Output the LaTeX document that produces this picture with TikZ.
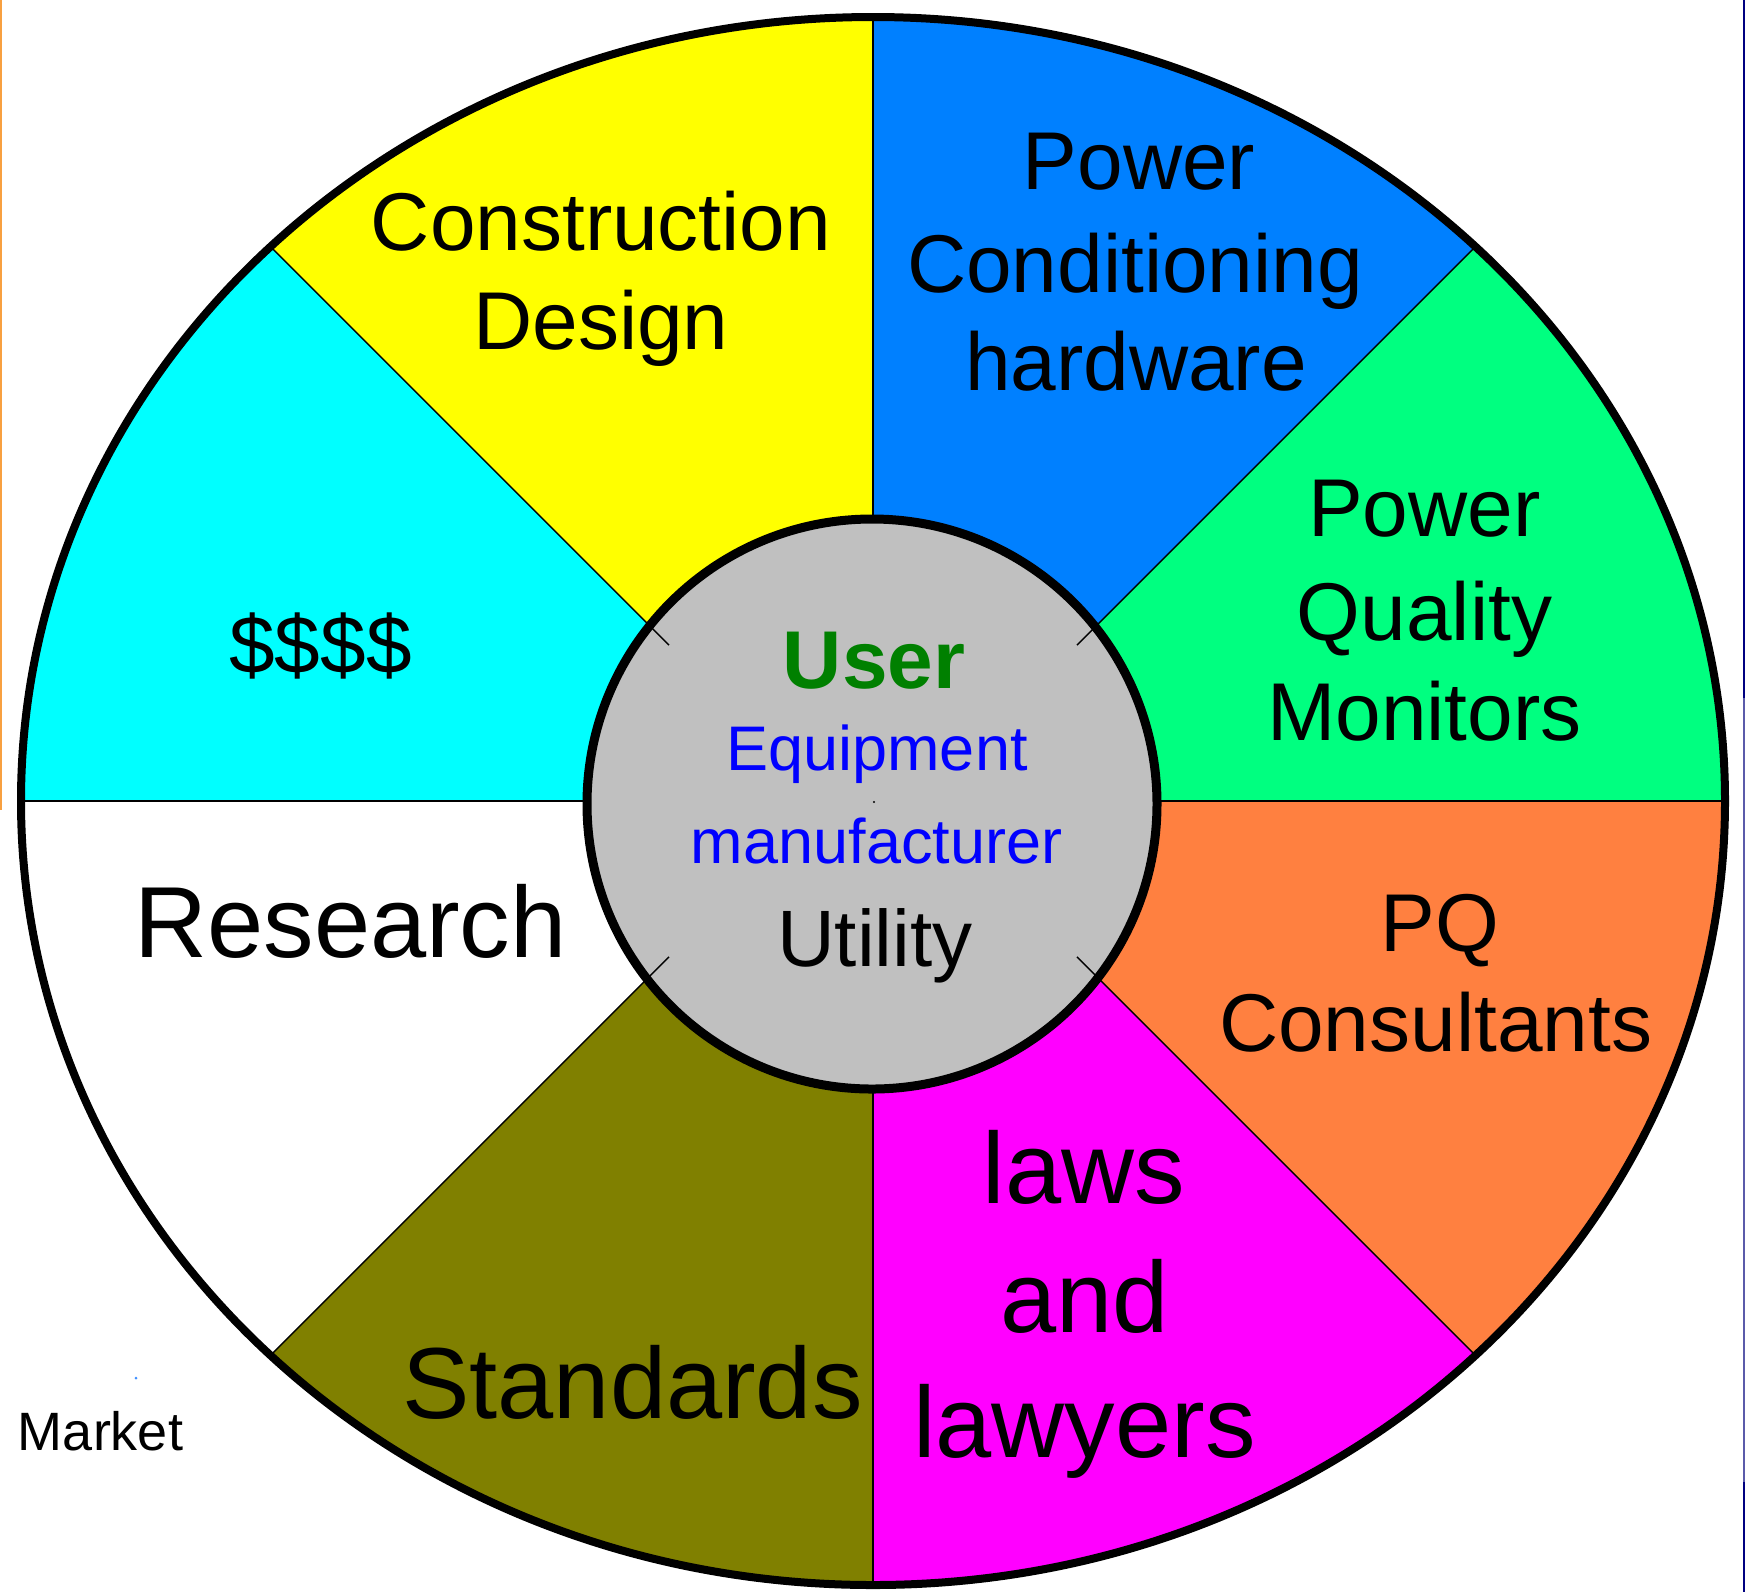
\documentclass[tikz,border=0pt]{standalone}
\usepackage{fontspec}
\setmainfont{Liberation Sans}
\definecolor{cyellow}{HTML}{FFFF00}
\definecolor{cblue}{HTML}{0080FF}
\definecolor{ccyan}{HTML}{00FFFF}
\definecolor{cgreen}{HTML}{00FF80}
\definecolor{corange}{HTML}{FF8040}
\definecolor{cmagenta}{HTML}{FF00FF}
\definecolor{colive}{HTML}{808000}
\definecolor{chub}{HTML}{C0C0C0}
\definecolor{usergreen}{HTML}{008000}
\definecolor{equipblue}{HTML}{0000FF}
\definecolor{edgeorange}{HTML}{F8A040}
\definecolor{edgenavy}{HTML}{000080}
\definecolor{edgeslate}{HTML}{5B5BAA}
\definecolor{dotblue}{HTML}{4090FF}
\begin{document}
\begin{tikzpicture}[x=0.5pt,y=-0.5pt,
  txt/.style={inner sep=0pt, outer sep=0pt, anchor=base},
  mid/.style={txt, font=\fontsize{41}{41}\selectfont},
  big/.style={txt, font=\fontsize{50.5}{50.5}\selectfont},
  hubsmall/.style={txt, text=equipblue, font=\fontsize{31.5}{31.5}\selectfont},
  divider/.style={draw=black, line width=0.75pt},
  rim/.style={draw=black, line width=4pt},
  el/.style={x radius=852, y radius=784}]
\useasboundingbox (0,0) rectangle (1745,1592);
\fill[white] (0,0) rectangle (1745,1592);

% thin coloured strips along the page edges
\fill[edgeorange] (0,0) rectangle (1.5,810);
\fill[edgenavy] (1743,0) rectangle (1745,698);
\fill[edgeslate] (1743,698) rectangle (1745,1482);
\fill[edgenavy] (1743,1482) rectangle (1745,1592);

% key points of the wheel
\coordinate (C) at (873,801);
\coordinate (T) at (873,17);
\coordinate (B) at (873,1585);
\coordinate (L) at (21,801);
\coordinate (R) at (1725,801);
\coordinate (UL) at (270.5,246.6);
\coordinate (UR) at (1475.5,246.6);
\coordinate (LL) at (270.5,1355.4);
\coordinate (LR) at (1475.5,1355.4);
\coordinate (ULin) at (669,645.1);
\coordinate (URin) at (1077,645.1);
\coordinate (LLin) at (669,956.9);
\coordinate (LRin) at (1077,956.9);

% sectors
\fill[cyellow] (C) -- (T) arc[start angle=-90, end angle=-135, el] -- (ULin) -- cycle;
\fill[cblue] (C) -- (T) arc[start angle=-90, end angle=-45, el] -- (URin) -- cycle;
\fill[cgreen] (C) -- (R) arc[start angle=0, end angle=-45, el] -- (URin) -- cycle;
\fill[corange] (C) -- (R) arc[start angle=0, end angle=45, el] -- (LRin) -- cycle;
\fill[cmagenta] (C) -- (B) arc[start angle=90, end angle=45, el] -- (LRin) -- cycle;
\fill[colive] (C) -- (B) arc[start angle=90, end angle=135, el] -- (LLin) -- cycle;
\fill[white] (C) -- (L) arc[start angle=180, end angle=135, el] -- (LLin) -- cycle;
\fill[ccyan] (C) -- (L) arc[start angle=180, end angle=225, el] -- (ULin) -- cycle;

% straight dividers
\draw[divider] (T) -- (C);
\draw[divider] (B) -- (C);
\draw[divider] (L) -- (C);
\draw[divider] (R) -- (C);

% hub
\coordinate (H) at (872,804);
\fill[chub] (H) circle[radius=285];

% diagonal dividers, ending just inside the hub
\draw[divider] (UL) -- (ULin);
\draw[divider] (UR) -- (URin);
\draw[divider] (LL) -- (LLin);
\draw[divider] (LR) -- (LRin);

\draw[draw=black, line width=4.5pt] (H) circle[radius=285];
\fill[black] (874,802) circle[radius=1.2];
\draw[rim] (C) ellipse[el];

% sector labels
\node[mid] (cons1) at (601,250) {Construction};
\node[mid] (cons2) at (601,349) {Design};
\node[mid] (pc1) at (1139,189) {Power};
\node[mid] (pc2) at (1135,292) {Conditioning};
\node[mid] (pc3) at (1136,390) {hardware};
\node[mid] (money) at (320.5,673) {\$\$\$\$};
\node[mid] (pqm1) at (1424.5,536) {Power};
\node[mid] (pqm2) at (1424.5,640) {Quality};
\node[mid] (pqm3) at (1424.5,740) {Monitors};
\node[big] (res) at (350.6,957) {Research};
\node[mid] (pqc1) at (1440,951.5) {PQ};
\node[mid] (pqc2) at (1435.6,1051.7) {Consultants};
\node[big] (law1) at (1084,1203) {laws};
\node[big] (law2) at (1084.7,1332) {and};
\node[big] (law3) at (1084.4,1457) {lawyers};
\node[big] (std) at (632.5,1418) {Standards};

% hub labels
\node[txt, text=usergreen, font=\bfseries\fontsize{41}{41}\selectfont] (user) at (874,688) {User};
\node[hubsmall] (equip) at (877,770) {Equipment};
\node[hubsmall] (manu) at (876.5,863.6) {manufacturer};
\node[txt, font=\fontsize{40}{40}\selectfont] (util) at (875,966) {Utility};

% outside label
\fill[dotblue] (136,1378) circle[radius=1.5];
\node[txt, anchor=base west, font=\fontsize{27}{27}\selectfont] (market) at (18,1450) {Market};
\end{tikzpicture}
\end{document}
